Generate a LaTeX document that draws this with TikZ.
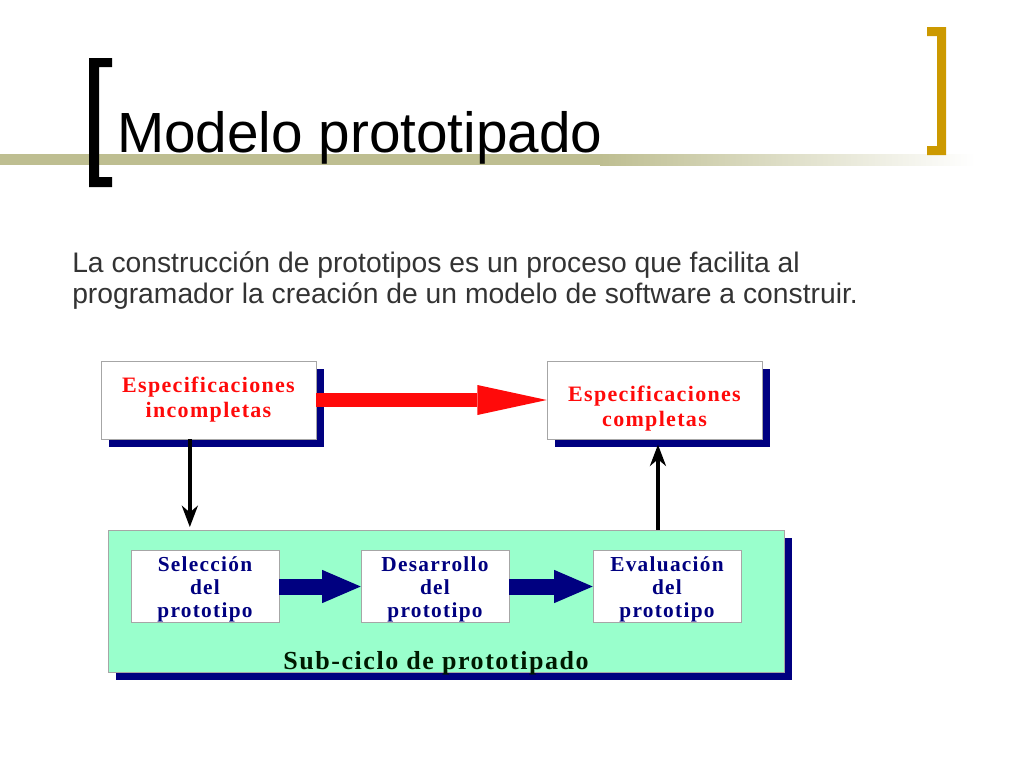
\documentclass[tikz,border=0pt]{standalone}
\usepackage{fontspec}
\setmainfont{Liberation Sans}
\newfontfamily\boxfont[LetterSpace=6]{Liberation Serif}
\usepackage{tikz}
\usetikzlibrary{arrows.meta}
\usetikzlibrary{shadows,positioning}
\definecolor{olivebar}{RGB}{190,190,145}
\definecolor{goldbar}{RGB}{204,153,0}
\definecolor{navyblue}{RGB}{0,0,128}
\definecolor{mint}{RGB}{153,255,204}
\definecolor{specred}{RGB}{255,10,10}
\definecolor{bodygray}{RGB}{51,51,51}
\definecolor{cyclegreen}{RGB}{0,25,0}
\newcommand{\lowstrut}{\rule{0pt}{16pt}}
\tikzset{
  specbox/.style={draw=gray!70, fill=white, inner sep=0pt, align=center,
    minimum width=161.25pt, minimum height=58.5pt, text=specred,
    font=\boxfont\bfseries\fontsize{16.5}{18.75}\selectfont,
    drop shadow={shadow xshift=6pt, shadow yshift=-6pt, fill=navyblue, opacity=1}},
  protobox/.style={draw=gray!70, fill=white, inner sep=0pt, align=center,
    minimum width=111pt, minimum height=51.75pt, text=navyblue,
    font=\boxfont\bfseries\fontsize{16}{17.25}\selectfont},
  cyclebox/.style={draw=gray!70, fill=mint, minimum width=507pt, minimum height=106.5pt,
    drop shadow={shadow xshift=6pt, shadow yshift=-6pt, fill=navyblue, opacity=1}},
  redarrow/.style={line width=10.5pt, specred, -{Triangle[length=52pt, width=22.5pt, line width=0pt]}},
  bluearrow/.style={line width=12pt, navyblue, -{Triangle[length=29pt, width=25pt, line width=0pt]}},
  flow/.style={line width=2.6pt, -{Stealth[length=16pt, width=12pt, inset=5pt]}}
}
\begin{document}
\begin{tikzpicture}[x=0.75pt, y=-0.75pt, line cap=butt]
  \useasboundingbox (0,0) rectangle (1024,768);

  % title bar and brackets
  \fill [olivebar] (0,154) rectangle (600,165);
  \shade [left color=olivebar, right color=white] (600,154) rectangle (975,165);
  \fill [black] (89,58) -- (112,58) -- (112,67) -- (99,67) -- (99,177) -- (112,177)
    -- (112,187) -- (89,187) -- cycle;
  \fill [goldbar] (927,27) -- (946,27) -- (946,155) -- (927,155) -- (927,146)
    -- (937,146) -- (937,36) -- (927,36) -- cycle;

  \node [anchor=base west, inner sep=0pt, font=\fontsize{42.5}{50}\selectfont] (title) at (117,152) {Modelo prototipado};

  \node [anchor=base west, inner sep=0pt, text=bodygray, font=\fontsize{21.2}{26}\selectfont] (introA) at (72,272)
    {La construcción de prototipos es un proceso que facilita al};
  \node [anchor=base west, inner sep=0pt, text=bodygray, font=\fontsize{21.2}{26}\selectfont] (introB) at ([yshift=-23.25pt]introA.base west)
    {programador la creación de un modelo de software a construir.};

  % diagram
  \node [specbox] (incomp) at (208.5,400) {Especificaciones\\incompletas};
  \node [specbox] (comp) at (654.5,400) {\rule{0pt}{24pt}Especificaciones\\completas};
  \node [cyclebox] (cycle) at (446,601) {};

  \node [protobox] (sel) at (205,586.5) {\lowstrut Selección\\del\\prototipo};
  \node [protobox] (des) at (435,586.5) {\lowstrut Desarrollo\\del\\prototipo};
  \node [protobox] (eva) at (667,586.5) {\lowstrut Evaluación\\del\\prototipo};
  \node [text=cyclegreen, font=\boxfont\bfseries\fontsize{19.5}{24}\selectfont] (cyclelabel) at (436,663) {Sub-ciclo de prototipado};

  \draw [redarrow] (incomp.east) -- (comp.west);
  \draw [bluearrow] (sel.east) -- (des.west);
  \draw [bluearrow] (des.east) -- (eva.west);

  \draw [flow, shorten >=2pt] ([xshift=-14pt]incomp.south) -- ([xshift=-14pt]incomp.south |- cycle.north);
  \draw [flow, shorten >=4pt] ([xshift=2.6pt]comp.south |- cycle.north) -- ([xshift=2.6pt]comp.south);

\end{tikzpicture}
\end{document}
